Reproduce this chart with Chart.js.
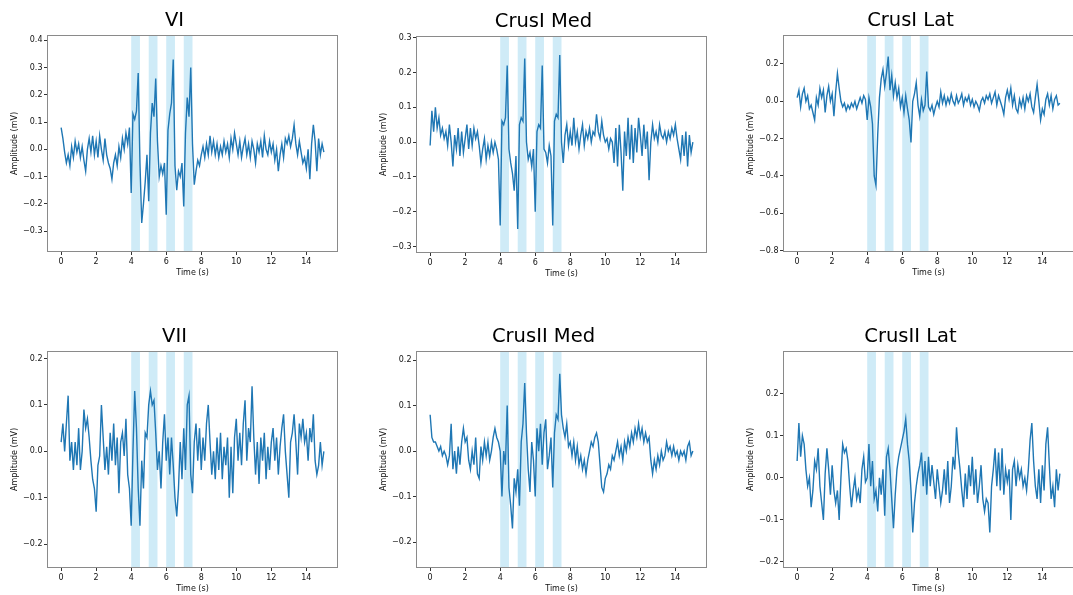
<!DOCTYPE html>
<html>
<head>
<meta charset="utf-8">
<script src="https://cdn.jsdelivr.net/npm/chart.js@4.4.1/dist/chart.umd.min.js"></script>
<style>
    body { margin: 0; background: #fff; width: 1073px; height: 595px; overflow: hidden; position: relative; }
    canvas { position: absolute; }
</style>
</head>
<body>
<canvas id="Chart_0"></canvas>
<canvas id="Chart_1"></canvas>
<canvas id="Chart_2"></canvas>
<canvas id="Chart_3"></canvas>
<canvas id="Chart_4"></canvas>
<canvas id="Chart_5"></canvas>
<script>
// sample grid, 0.1 s from 0 to 15 s
var sampleStep = 0.1;
var nSamples = 151;
var timeS = [];
for (var i = 0; i < nSamples; i++) { timeS.push(Math.round(i * sampleStep * 10) / 10); }

var xTicks = [0, 2, 4, 6, 8, 10, 12, 14];
var stimBands = [[4, 4.5], [5, 5.5], [6, 6.5], [7, 7.5]];

var titles = ["VI", "CrusI Med", "CrusI Lat", "VII", "CrusII Med", "CrusII Lat"];

// amplitudes (mV), one value per 0.1 s
var vi = [
    0.08, 0.04, -0.01, -0.05, -0.02, -0.06, 0.01, -0.03, 0.03, -0.01,
    0.02, -0.03, 0.01, -0.04, -0.08, 0.00, 0.04, -0.01, 0.05, -0.02,
    0.03, -0.03, 0.05, 0.00, -0.04, 0.04, -0.02, -0.05, -0.07, -0.11,
    -0.05, -0.02, -0.06, 0.01, -0.03, 0.04, 0.00, 0.06, 0.02, 0.08,
    -0.16, 0.13, 0.11, 0.14, 0.28, -0.05, -0.27, -0.20, -0.12, -0.02,
    -0.19, 0.06, 0.17, 0.12, 0.26, 0.03, -0.10, -0.06, -0.09, -0.05,
    -0.24, 0.07, 0.13, 0.17, 0.33, -0.06, -0.15, -0.08, -0.10, -0.05,
    -0.21, 0.06, 0.19, 0.12, 0.30, 0.02, -0.13, -0.08, -0.04, -0.06,
    -0.02, 0.01, -0.03, 0.02, -0.02, 0.05, -0.01, 0.03, -0.02, 0.02,
    -0.03, 0.01, -0.02, 0.03, -0.01, 0.02, -0.03, 0.04, 0.00, 0.06,
    0.02, -0.02, 0.03, -0.03, 0.01, 0.04, -0.02, 0.02, -0.03, 0.03,
    0.00, -0.05, 0.02, -0.01, 0.03, -0.03, 0.05, 0.00, -0.02, 0.03,
    -0.01, 0.02, -0.04, 0.00, -0.08, -0.02, 0.02, -0.03, 0.04, 0.02,
    0.05, 0.01, 0.04, 0.09, 0.02, -0.02, 0.03, -0.01, -0.05, -0.03,
    -0.07, 0.00, -0.11, 0.02, 0.09, 0.03, -0.08, 0.04, -0.02, 0.02,
    -0.01];

var crusIMed = [
    -0.01, 0.09, 0.03, 0.10, 0.04, 0.07, 0.02, 0.04, 0.01, 0.03,
    -0.01, 0.05, 0.00, -0.07, 0.02, -0.02, 0.04, -0.04, 0.03, -0.03,
    0.01, 0.05, -0.02, 0.04, -0.01, 0.04, 0.01, 0.03, -0.01, -0.06,
    -0.02, 0.01, -0.05, -0.01, -0.04, 0.00, -0.03, 0.00, -0.02, -0.05,
    -0.24, 0.06, 0.05, 0.07, 0.22, -0.02, -0.06, -0.09, -0.14, -0.04,
    -0.25, 0.05, 0.07, 0.06, 0.24, 0.00, -0.05, -0.03, -0.07, -0.02,
    -0.20, 0.03, 0.05, 0.04, 0.22, -0.02, -0.03, -0.06, -0.01, -0.04,
    -0.24, 0.06, 0.08, 0.07, 0.25, 0.00, -0.06, 0.02, 0.05, -0.01,
    0.03, -0.01, 0.07, 0.00, 0.03, -0.02, 0.02, 0.05, -0.01, 0.03,
    0.01, 0.04, 0.00, 0.03, 0.02, 0.08, 0.03, 0.01, 0.06, 0.02,
    0.00, 0.01, -0.02, 0.01, 0.00, -0.06, 0.04, -0.07, 0.05, -0.03,
    -0.14, 0.03, -0.04, 0.07, -0.05, 0.05, -0.06, 0.04, -0.03, 0.07,
    0.02, -0.04, 0.05, -0.02, 0.03, -0.11, 0.00, 0.05, 0.01, 0.03,
    0.00, 0.05, 0.02, 0.01, 0.03, 0.00, 0.03, 0.01, 0.04, 0.02,
    0.05, 0.01, -0.02, -0.05, 0.02, -0.04, 0.03, -0.07, 0.02, -0.03,
    0.00];

var crusILat = [
    0.02, 0.06, -0.03, 0.04, 0.07, 0.00, 0.03, -0.04, -0.02, -0.06,
    -0.10, 0.02, -0.02, 0.07, 0.02, 0.06, -0.06, 0.03, 0.08, 0.00,
    0.04, -0.08, 0.05, 0.15, 0.07, 0.00, -0.03, -0.01, -0.05, -0.02,
    -0.04, -0.01, -0.03, 0.00, -0.04, -0.01, 0.02, -0.01, 0.03, 0.01,
    -0.10, 0.02, -0.03, -0.12, -0.40, -0.45, -0.18, 0.02, 0.12, 0.17,
    0.08, 0.15, 0.24, 0.06, 0.14, 0.03, 0.10, 0.02, 0.07, -0.03,
    0.02, -0.06, 0.03, -0.04, -0.10, -0.22, 0.00, 0.04, 0.10, -0.02,
    -0.08, 0.01, -0.05, -0.02, 0.16, -0.03, -0.05, -0.02, -0.07, -0.03,
    0.00, -0.03, 0.05, -0.01, 0.03, -0.02, 0.02, -0.01, 0.04, 0.00,
    -0.02, 0.03, -0.01, 0.01, 0.04, -0.02, 0.02, 0.00, 0.03, -0.02,
    0.01, -0.03, 0.00, -0.02, -0.05, 0.00, 0.02, -0.01, 0.03, 0.01,
    0.04, -0.01, 0.02, 0.05, -0.02, 0.03, 0.00, -0.03, -0.07, 0.02,
    0.06, 0.01, 0.07, -0.02, 0.03, -0.04, -0.06, 0.01, -0.03, 0.02,
    -0.04, 0.03, 0.00, 0.04, -0.03, -0.06, 0.02, 0.09, 0.00, -0.10,
    -0.04, -0.07, 0.01, 0.04, -0.02, 0.03, -0.04, 0.01, 0.03, -0.02,
    -0.01];

var vii = [
    0.02, 0.06, 0.00, 0.06, 0.12, -0.02, 0.02, -0.04, 0.02, -0.03,
    0.05, -0.04, 0.00, 0.09, 0.05, 0.07, 0.03, -0.02, -0.06, -0.08,
    -0.13, -0.03, -0.01, 0.10, 0.03, -0.04, 0.01, -0.05, 0.04, -0.02,
    0.06, -0.03, 0.03, -0.09, 0.02, 0.04, -0.01, 0.07, -0.05, -0.08,
    -0.16, 0.00, 0.13, 0.05, -0.08, -0.16, -0.02, -0.08, 0.04, 0.03,
    0.10, 0.13, 0.10, 0.11, 0.04, -0.04, 0.00, -0.08, 0.02, 0.08,
    -0.02, 0.03, -0.05, 0.03, -0.03, -0.10, -0.14, -0.08, 0.02, -0.06,
    0.05, -0.04, 0.10, 0.12, -0.05, -0.09, 0.02, 0.06, -0.02, 0.05,
    -0.04, 0.03, -0.02, 0.06, 0.10, 0.02, -0.05, 0.00, -0.06, 0.03,
    -0.04, 0.04, -0.06, 0.01, -0.03, 0.03, -0.10, 0.01, -0.09, 0.03,
    0.07, -0.02, 0.04, -0.03, 0.06, 0.11, -0.02, 0.05, 0.02, 0.14,
    0.03, -0.05, 0.02, -0.07, 0.03, -0.02, 0.04, -0.06, 0.01, -0.04,
    0.02, 0.05, -0.02, 0.03, -0.05, 0.01, 0.05, 0.08, 0.00, -0.05,
    -0.10, 0.02, 0.04, 0.08, 0.02, -0.05, 0.06, 0.03, 0.07, 0.02,
    0.04, -0.02, 0.05, 0.02, 0.08, -0.02, -0.05, -0.03, 0.02, -0.03,
    0.00];

var crusIIMed = [
    0.08, 0.03, 0.02, 0.02, 0.01, 0.00, 0.01, -0.01, 0.00, -0.01,
    -0.03, -0.01, 0.06, -0.04, 0.00, -0.05, 0.01, -0.03, 0.02, 0.05,
    0.02, 0.03, -0.02, -0.04, 0.00, -0.03, 0.03, -0.05, -0.06, 0.01,
    -0.02, 0.02, -0.01, 0.02, -0.02, 0.00, 0.03, 0.05, 0.03, 0.02,
    0.00, -0.10, 0.00, -0.03, 0.10, -0.08, -0.12, -0.17, -0.06, -0.09,
    -0.04, -0.12, 0.02, 0.06, 0.15, 0.04, -0.04, -0.09, 0.02, -0.02,
    -0.10, 0.05, 0.00, 0.06, -0.03, 0.04, 0.07, -0.04, -0.01, 0.03,
    -0.08, 0.04, 0.08, 0.07, 0.17, 0.08, 0.05, 0.03, 0.06, 0.01,
    0.02, -0.01, 0.02, -0.02, 0.01, -0.03, -0.01, -0.04, -0.02, -0.05,
    -0.02, 0.00, 0.02, 0.01, 0.03, 0.04, 0.02, -0.03, -0.08, -0.09,
    -0.06, -0.05, -0.03, -0.04, -0.01, -0.02, 0.00, 0.02, -0.01, 0.01,
    -0.02, 0.02, 0.00, 0.03, 0.01, 0.04, 0.02, 0.05, 0.03, 0.06,
    0.03, 0.05, 0.02, 0.04, 0.02, 0.03, -0.02, -0.05, -0.02, -0.04,
    -0.01, -0.03, 0.00, -0.02, -0.01, 0.02, 0.00, 0.01, -0.01, 0.01,
    -0.01, 0.00, -0.02, 0.00, -0.01, 0.00, -0.02, 0.01, 0.02, -0.01,
    0.00];

var crusIILat = [
    0.04, 0.13, 0.05, 0.10, 0.08, 0.02, -0.02, 0.00, -0.07, -0.03,
    0.04, 0.02, 0.07, -0.02, -0.06, -0.10, 0.01, 0.07, 0.02, -0.04,
    0.03, -0.03, -0.06, -0.03, -0.10, 0.00, 0.08, 0.06, 0.07, 0.04,
    -0.02, -0.07, -0.03, 0.00, -0.05, -0.03, -0.06, 0.02, 0.05, -0.01,
    0.00, 0.08, -0.02, 0.04, -0.05, -0.03, -0.08, 0.00, -0.04, 0.02,
    -0.09, 0.05, 0.07, 0.02, -0.05, -0.12, -0.04, 0.02, 0.05, 0.07,
    0.09, 0.11, 0.14, 0.08, 0.04, -0.03, -0.13, -0.06, -0.02, 0.01,
    0.03, 0.06, -0.02, 0.04, -0.04, 0.05, -0.02, 0.03, -0.01, -0.05,
    0.02, -0.02, -0.06, -0.03, 0.02, -0.04, 0.04, -0.06, -0.02, 0.05,
    0.02, 0.12, 0.06, 0.02, -0.03, -0.07, 0.01, -0.05, 0.03, -0.02,
    0.05, -0.04, 0.02, -0.06, -0.02, 0.03, -0.05, -0.08, -0.05, -0.06,
    -0.13, -0.02, 0.02, 0.07, -0.02, 0.06, -0.03, 0.07, -0.04, 0.02,
    -0.01, 0.02, -0.10, 0.02, 0.04, -0.02, 0.03, 0.00, 0.02, -0.02,
    0.00, -0.03, 0.02, 0.09, 0.13, 0.04, -0.02, -0.05, 0.02, -0.06,
    0.03, -0.03, 0.08, 0.12, 0.03, -0.05, -0.02, -0.07, 0.02, -0.03,
    0.01];

var yTicksVI = [-0.3, -0.2, -0.1, 0, 0.1, 0.2, 0.3, 0.4];
var yTicksCrusIMed = [-0.3, -0.2, -0.1, 0, 0.1, 0.2, 0.3];
var yTicksCrusILat = [-0.8, -0.6, -0.4, -0.2, 0, 0.2];
var yTicksSmall = [-0.2, -0.1, 0, 0.1, 0.2];

var panels = [
    { vals: vi,        yMin: -0.373, yMax: 0.416, yTicks: yTicksVI,       left: -2,  top: 0 },
    { vals: crusIMed,  yMin: -0.316, yMax: 0.302, yTicks: yTicksCrusIMed, left: 367, top: 1 },
    { vals: crusILat,  yMin: -0.802, yMax: 0.350, yTicks: yTicksCrusILat, left: 734, top: 0 },
    { vals: vii,       yMin: -0.249, yMax: 0.214, yTicks: yTicksSmall,    left: -2,  top: 316 },
    { vals: crusIIMed, yMin: -0.255, yMax: 0.218, yTicks: yTicksSmall,    left: 367, top: 316 },
    { vals: crusIILat, yMin: -0.212, yMax: 0.299, yTicks: yTicksSmall,    left: 734, top: 316 }
];

var fontFam = "'DejaVu Sans', sans-serif";

function fmtY(v) {
    var s = Math.abs(v) < 1e-9 ? "0.0" : v.toFixed(1);
    return s.replace("-", "\u2212");
}

// shaded stimulus windows, behind the trace
var bandPlugin = {
    id: "stimBands",
    beforeDatasetsDraw: function (chart) {
        var ctx = chart.ctx, xs = chart.scales.x, a = chart.chartArea;
        ctx.save();
        ctx.fillStyle = "rgba(135,206,235,0.4)";
        for (var b = 0; b < stimBands.length; b++) {
            var x0 = xs.getPixelForValue(stimBands[b][0]);
            var x1 = xs.getPixelForValue(stimBands[b][1]);
            ctx.fillRect(x0, a.top, x1 - x0, a.bottom - a.top);
        }
        ctx.restore();
    }
};

// box round the axes + panel title (title sits a bit left of the axes centre, like the figure)
var framePlugin = {
    id: "axFrame",
    afterDraw: function (chart, args, opts) {
        var ctx = chart.ctx, a = chart.chartArea;
        ctx.save();
        ctx.strokeStyle = "#8a8a8a";
        ctx.lineWidth = 1;
        ctx.strokeRect(Math.round(a.left) - 0.5, Math.round(a.top) - 0.5,
            Math.round(a.right - a.left) + 1, Math.round(a.bottom - a.top) + 1);

        ctx.fillStyle = "#000";
        ctx.font = "19.5px " + fontFam;
        ctx.textAlign = "center";
        ctx.textBaseline = "alphabetic";
        ctx.fillText(opts.text, (a.left + a.right) / 2 - 18, a.top - 10);
        ctx.restore();
    }
};

function fPanel(k) {
    var p = panels[k];
    var cv = document.getElementById("Chart_" + k);
    cv.width = 353; cv.height = 285;
    cv.style.left = p.left + "px"; cv.style.top = p.top + "px";

    new Chart(cv, {
        type: "line",
        data: {
            labels: timeS,
            datasets: [{
                data: p.vals,
                borderColor: "#1f77b4",
                borderWidth: 1.4,
                pointRadius: 0,
                fill: false,
                tension: 0
            }]
        },
        options: {
            responsive: false,
            animation: false,
            devicePixelRatio: 1,
            layout: { padding: { left: 0, right: 14, top: 36, bottom: 0 } },
            plugins: {
                legend: { display: false },
                tooltip: { enabled: false },
                axFrame: { text: titles[k] }
            },
            scales: {
                x: {
                    type: "linear",
                    position: "bottom",
                    min: -0.75, max: 15.75,
                    afterBuildTicks: function (s) { s.ticks = xTicks.map(function (v) { return { value: v }; }); },
                    afterFit: function (s) { s.height = 34; },
                    grid: { display: true, drawOnChartArea: false, drawTicks: true, tickLength: 4, tickColor: "#333" },
                    border: { display: false },
                    ticks: { autoSkip: false, maxRotation: 0, padding: 2, color: "#111",
                             font: { family: fontFam, size: 8 },
                             callback: function (v) { return String(v); } },
                    title: { display: true, text: "Time (s)", color: "#111",
                             font: { family: fontFam, size: 8 }, padding: { top: 0, bottom: 7 } }
                },
                y: {
                    type: "linear",
                    min: p.yMin, max: p.yMax,
                    afterBuildTicks: function (s) { s.ticks = p.yTicks.map(function (v) { return { value: v }; }); },
                    afterFit: function (s) { s.width = 50; },
                    grid: { display: true, drawOnChartArea: false, drawTicks: true, tickLength: 4, tickColor: "#333" },
                    border: { display: false },
                    ticks: { autoSkip: false, padding: 1.5, color: "#111",
                             font: { family: fontFam, size: 8 }, callback: fmtY },
                    title: { display: true, text: "Amplitude (mV)", color: "#111",
                             font: { family: fontFam, size: 8 }, padding: { top: 12, bottom: 0 } }
                }
            }
        },
        plugins: [bandPlugin, framePlugin]
    });
}

for (var k = 0; k < panels.length; k++) { fPanel(k); }
</script>
</body>
</html>
